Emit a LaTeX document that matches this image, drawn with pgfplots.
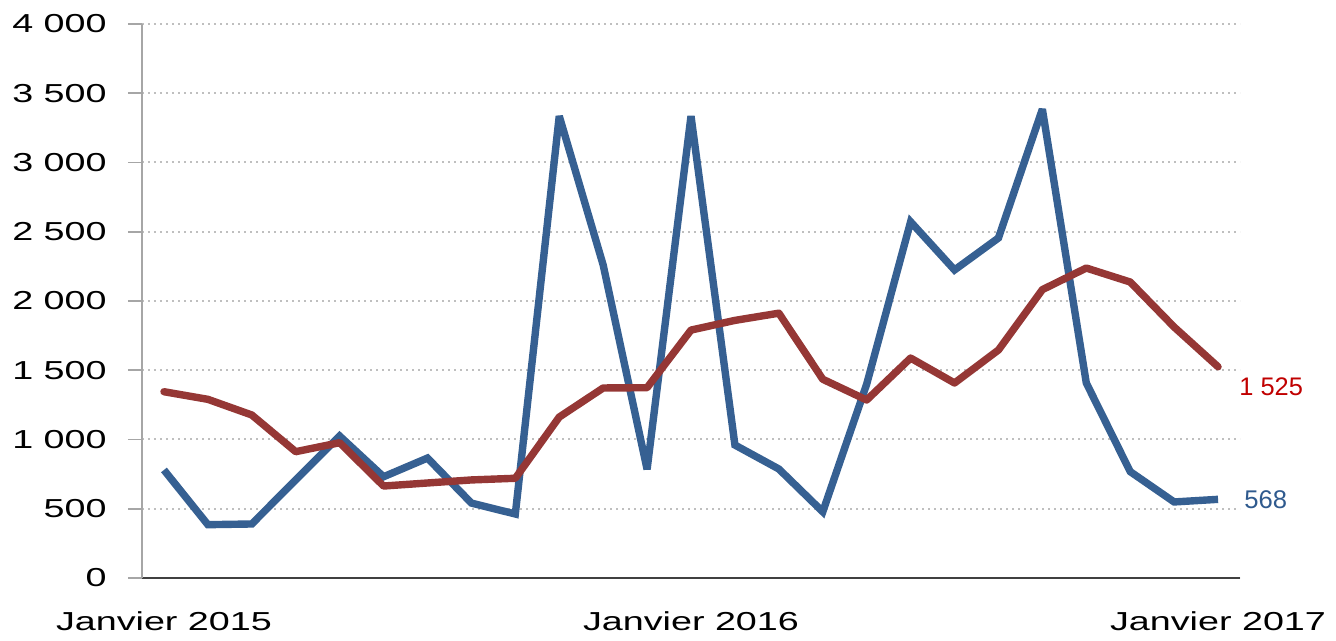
\documentclass[border=0pt]{standalone}
\usepackage{pgfplots}
\pgfplotsset{compat=1.18}
\usepackage{fontspec}
\setmainfont{Liberation Sans}
\newfontfamily\stretchfont[FakeStretch=1.45]{Liberation Sans}
\definecolor{sblue}{HTML}{366092}
\definecolor{sred}{HTML}{953735}
\definecolor{lred}{HTML}{C00000}
\definecolor{lblue}{HTML}{2F5A8E}
\begin{document}
\begin{tikzpicture}
\begin{axis}[
  at={(0,0)}, anchor=south west,
  scale only axis,
  width=549pt, height=277pt,
  xmin=-0.5, xmax=24.5,
  ymin=0, ymax=4000,
  clip=false,
  axis x line*=bottom,
  axis y line*=left,
  x axis line style={draw=black!75, line width=1pt, -},
  y axis line style={draw=black!35, line width=1pt, -},
  xtick={0,12,24},
  xticklabels={Janvier 2015, Janvier 2016, Janvier 2017},
  x tick style={draw=none},
  ytick={0,500,1000,1500,2000,2500,3000,3500,4000},
  yticklabels={0,500,1 000,1 500,2 000,2 500,3 000,3 500,4 000},
  y tick style={draw=black!35, line width=0.8pt},
  tick align=outside,
  major tick length=7pt,
  ymajorgrids,
  grid style={draw=black!25, line width=1pt, dash pattern=on 1.2pt off 1.8pt},
  yticklabel style={font=\stretchfont\fontsize{13}{15}\selectfont, anchor=east, inner sep=0pt, xshift=-10.5pt},
  xticklabel style={font=\stretchfont\fontsize{13}{15}\selectfont, anchor=north, inner sep=0pt, yshift=-9.5pt},
]
\addplot[sblue, line width=3.7pt, line join=miter, miter limit=4, line cap=butt] coordinates {
(0,780) (1,385) (2,390) (3,708) (4,1025) (5,731) (6,866) (7,541) (8,462)
(9,3335) (10,2260) (11,785) (12,3335) (13,960) (14,787) (15,478)
(16,1400) (17,2572) (18,2224) (19,2455) (20,3385) (21,1408) (22,768) (23,549) (24,568)
};
\addplot[sred, line width=3.7pt, line join=round, line cap=round] coordinates {
(0,1345) (1,1290) (2,1177) (3,912) (4,977) (5,664) (6,686) (7,708) (8,720)
(9,1162) (10,1372) (11,1374) (12,1790) (13,1860) (14,1912) (15,1435)
(16,1285) (17,1588) (18,1408) (19,1646) (20,2082) (21,2238) (22,2137) (23,1812) (24,1525)
};
\node[anchor=west, inner sep=0pt, text=lred, font=\fontsize{12.7}{14}\selectfont, xshift=10.5pt, yshift=-10pt] at (axis cs:24,1525) {1 525};
\node[anchor=west, inner sep=0pt, text=lblue, font=\fontsize{12.8}{14}\selectfont, xshift=13pt] at (axis cs:24,568) {568};
\end{axis}
\path (-71pt,-31.5pt) rectangle (597pt,289pt);
\end{tikzpicture}
\end{document}
